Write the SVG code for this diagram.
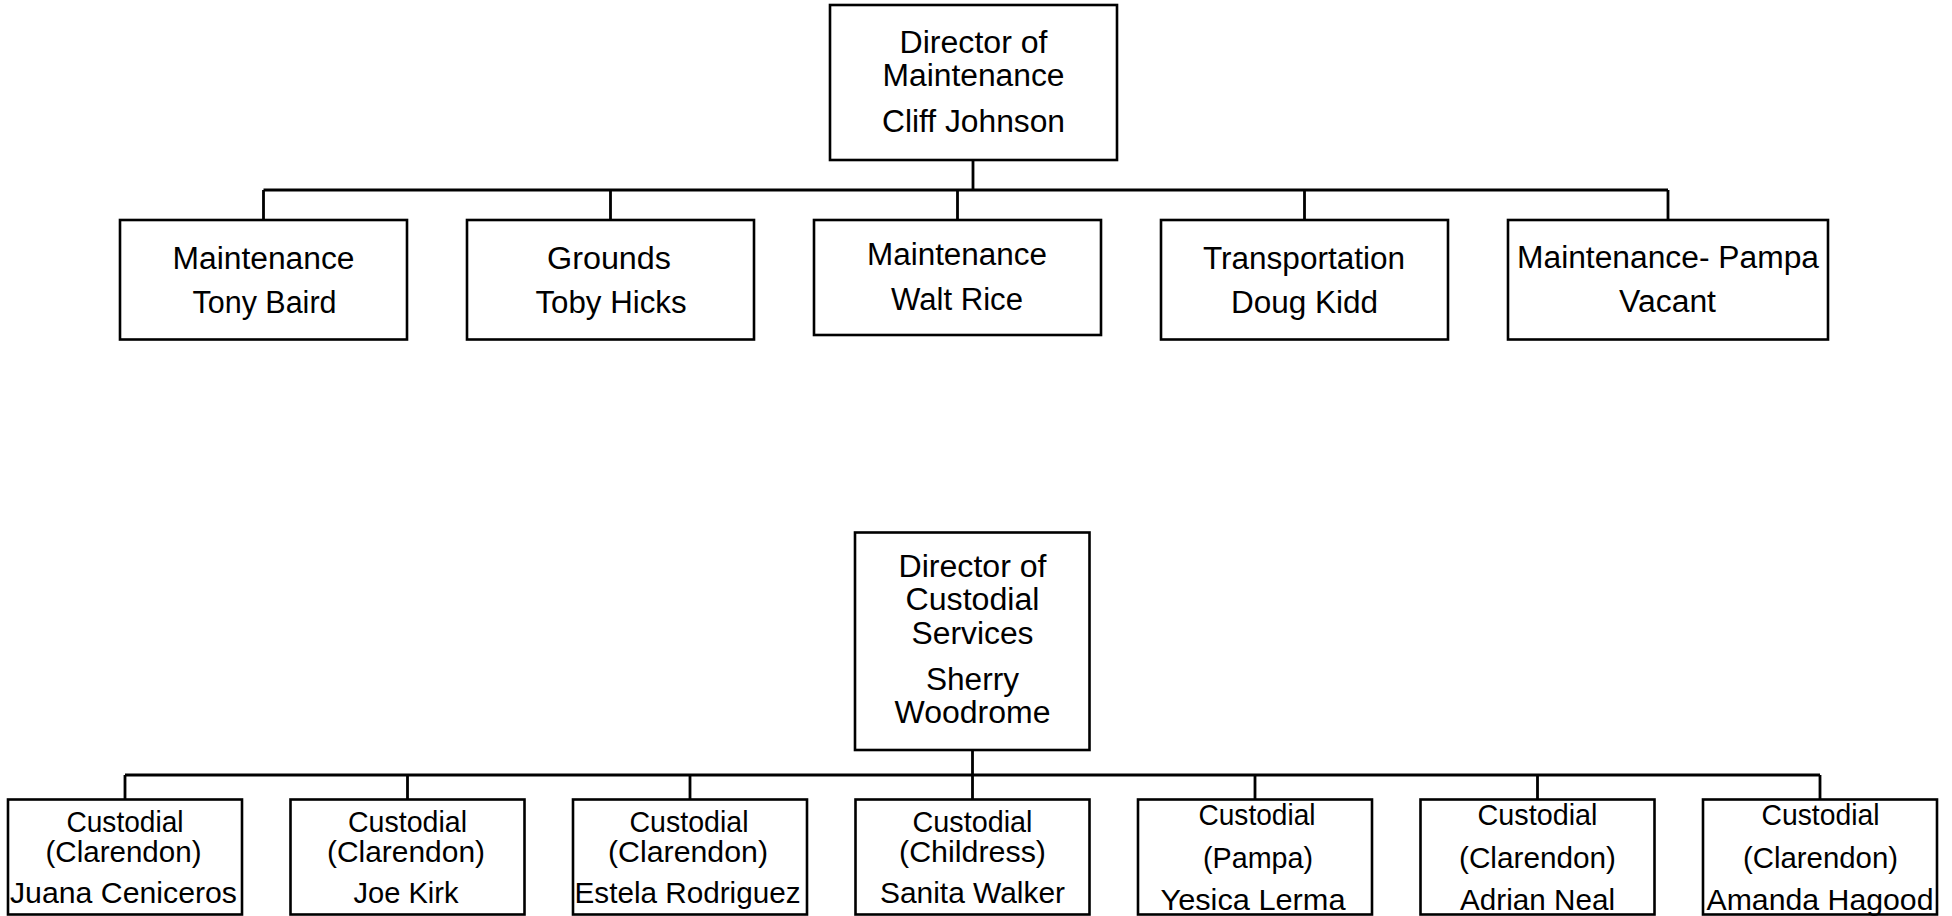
<svg xmlns="http://www.w3.org/2000/svg" width="1952" height="916" viewBox="0 0 1952 916">
<style>
.box{fill:#fff;stroke:#000;stroke-width:2.6}
.ln{fill:none;stroke:#000;stroke-width:2.8}
text{font-family:"Liberation Sans",Arial,sans-serif;font-size:31px;fill:#000;text-anchor:middle}
.sm text{font-size:30px}
</style>
<rect width="1952" height="916" fill="#fff"/>
<g id="connectors">
<path class="ln" d="M973 160V190M263.5 190H1668M263.5 190V220M610.5 190V220M957.5 190V220M1304.5 190V220M1668 190V220"/>
<path class="ln" d="M972.5 750V775M125 775H1820M125 775V799.5M407.5 775V799.5M690 775V799.5M972.5 775V799.5M1255 775V799.5M1537.5 775V799.5M1820 775V799.5"/>
</g>
<g id="dir-maint">
<rect class="box" x="830" y="5" width="287" height="155"/>
<text x="973.5" y="53" textLength="148" lengthAdjust="spacingAndGlyphs">Director of</text>
<text x="973.5" y="86" textLength="182" lengthAdjust="spacingAndGlyphs">Maintenance</text>
<text x="973.5" y="132" textLength="183" lengthAdjust="spacingAndGlyphs">Cliff Johnson</text>
</g>
<g id="maint-baird">
<rect class="box" x="120" y="220" width="287" height="119.5"/>
<text x="263.5" y="269" textLength="182" lengthAdjust="spacingAndGlyphs">Maintenance</text>
<text x="264.5" y="313" textLength="144" lengthAdjust="spacingAndGlyphs">Tony Baird</text>
</g>
<g id="grounds-hicks">
<rect class="box" x="467" y="220" width="287" height="119.5"/>
<text x="609" y="269" textLength="124" lengthAdjust="spacingAndGlyphs">Grounds</text>
<text x="611" y="313" textLength="151" lengthAdjust="spacingAndGlyphs">Toby Hicks</text>
</g>
<g id="maint-rice">
<rect class="box" x="814" y="220" width="287" height="115"/>
<text x="957" y="265" textLength="180" lengthAdjust="spacingAndGlyphs">Maintenance</text>
<text x="957" y="310" textLength="132" lengthAdjust="spacingAndGlyphs">Walt Rice</text>
</g>
<g id="transport-kidd">
<rect class="box" x="1161" y="220" width="287" height="119.5"/>
<text x="1304" y="269" textLength="202" lengthAdjust="spacingAndGlyphs">Transportation</text>
<text x="1304.5" y="313" textLength="147" lengthAdjust="spacingAndGlyphs">Doug Kidd</text>
</g>
<g id="maint-pampa">
<rect class="box" x="1508" y="220" width="320" height="119.5"/>
<text x="1668" y="268" textLength="302" lengthAdjust="spacingAndGlyphs">Maintenance- Pampa</text>
<text x="1667.5" y="312" textLength="97" lengthAdjust="spacingAndGlyphs">Vacant</text>
</g>
<g id="dir-custodial">
<rect class="box" x="855" y="532.5" width="234.5" height="217.5"/>
<text x="972.5" y="577" textLength="148" lengthAdjust="spacingAndGlyphs">Director of</text>
<text x="972.5" y="610" textLength="134" lengthAdjust="spacingAndGlyphs">Custodial</text>
<text x="972.5" y="644" textLength="122" lengthAdjust="spacingAndGlyphs">Services</text>
<text x="972.5" y="690" textLength="93" lengthAdjust="spacingAndGlyphs">Sherry</text>
<text x="972.5" y="723" textLength="156" lengthAdjust="spacingAndGlyphs">Woodrome</text>
</g>
<g class="sm">
<g id="cust-ceniceros">
<rect class="box" x="8" y="799.5" width="234" height="115"/>
<text x="125" y="832" textLength="117" lengthAdjust="spacingAndGlyphs">Custodial</text>
<text x="123.5" y="862" textLength="156" lengthAdjust="spacingAndGlyphs">(Clarendon)</text>
<text x="123.5" y="903" textLength="227" lengthAdjust="spacingAndGlyphs">Juana Ceniceros</text>
</g>
<g id="cust-kirk">
<rect class="box" x="290.5" y="799.5" width="234" height="115"/>
<text x="407.5" y="832" textLength="119" lengthAdjust="spacingAndGlyphs">Custodial</text>
<text x="406" y="862" textLength="158" lengthAdjust="spacingAndGlyphs">(Clarendon)</text>
<text x="406" y="903" textLength="105" lengthAdjust="spacingAndGlyphs">Joe Kirk</text>
</g>
<g id="cust-rodriguez">
<rect class="box" x="573" y="799.5" width="234" height="115"/>
<text x="689" y="832" textLength="119" lengthAdjust="spacingAndGlyphs">Custodial</text>
<text x="688" y="862" textLength="160" lengthAdjust="spacingAndGlyphs">(Clarendon)</text>
<text x="687.5" y="903" textLength="226" lengthAdjust="spacingAndGlyphs">Estela Rodriguez</text>
</g>
<g id="cust-walker">
<rect class="box" x="855.5" y="799.5" width="234" height="115"/>
<text x="972.5" y="832" textLength="120" lengthAdjust="spacingAndGlyphs">Custodial</text>
<text x="972.5" y="862" textLength="147" lengthAdjust="spacingAndGlyphs">(Childress)</text>
<text x="972.5" y="903" textLength="185" lengthAdjust="spacingAndGlyphs">Sanita Walker</text>
</g>
<g id="cust-lerma">
<rect class="box" x="1138" y="799.5" width="234" height="115"/>
<text x="1257" y="825" textLength="117" lengthAdjust="spacingAndGlyphs">Custodial</text>
<text x="1258" y="868" textLength="110" lengthAdjust="spacingAndGlyphs">(Pampa)</text>
<text x="1253" y="910" textLength="185" lengthAdjust="spacingAndGlyphs">Yesica Lerma</text>
</g>
<g id="cust-neal">
<rect class="box" x="1420.5" y="799.5" width="234" height="115"/>
<text x="1537.5" y="825" textLength="120" lengthAdjust="spacingAndGlyphs">Custodial</text>
<text x="1537.5" y="868" textLength="157" lengthAdjust="spacingAndGlyphs">(Clarendon)</text>
<text x="1537.5" y="910" textLength="155" lengthAdjust="spacingAndGlyphs">Adrian Neal</text>
</g>
<g id="cust-hagood">
<rect class="box" x="1703" y="799.5" width="234" height="115"/>
<text x="1820.5" y="825" textLength="118" lengthAdjust="spacingAndGlyphs">Custodial</text>
<text x="1820.5" y="868" textLength="155" lengthAdjust="spacingAndGlyphs">(Clarendon)</text>
<text x="1820" y="910" textLength="227" lengthAdjust="spacingAndGlyphs">Amanda Hagood</text>
</g>
</g>
</svg>
